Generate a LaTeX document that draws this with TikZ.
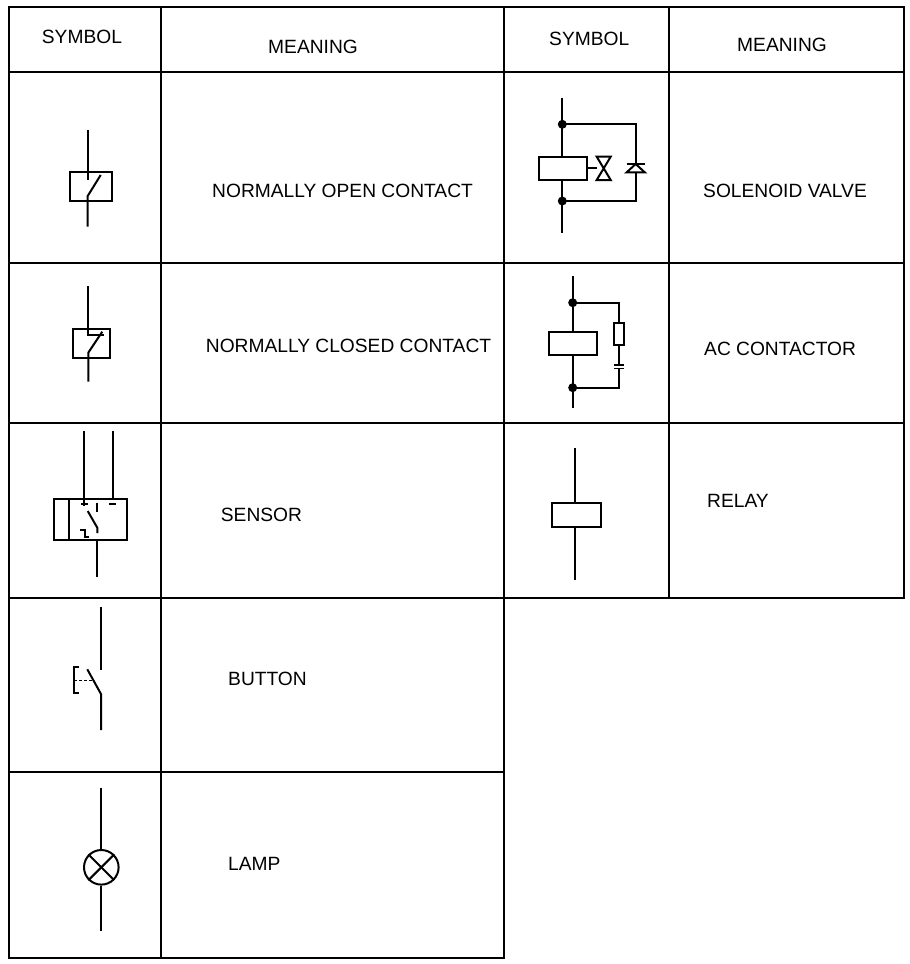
\documentclass[tikz,border=0pt]{standalone}
\usepackage{fontspec}
\setmainfont{Liberation Sans}
\begin{document}
\begin{tikzpicture}[x=1pt,y=-1pt,
  grid/.style={line width=2.2pt,line cap=rect},
  sym/.style={line width=2pt},
  lbl/.style={anchor=base west,inner sep=0pt,font=\fontsize{19.2}{22}\selectfont},
  dot/.style={circle,fill=black,inner sep=0pt,minimum size=9pt}]
\useasboundingbox (0,0) rectangle (910,964);
% ---- table grid ----
\foreach \y in {7,72,263,423,598} \draw[grid] (9,\y) -- (904,\y);
\foreach \y in {772,958} \draw[grid] (9,\y) -- (504,\y);
\foreach \x in {9,160.7,504} \draw[grid] (\x,7) -- (\x,958);
\foreach \x in {669,904} \draw[grid] (\x,7) -- (\x,598);
% ---- texts ----
\node[lbl] (t1) at (41.7,43.3) {SYMBOL};
\node[lbl] (t2) at (268,53) {MEANING};
\node[lbl] (t3) at (549,45) {SYMBOL};
\node[lbl] (t4) at (737,51) {MEANING};
\node[lbl] (t5) at (212,197) {NORMALLY OPEN CONTACT};
\node[lbl] (t6) at (703,197) {SOLENOID VALVE};
\node[lbl] (t7) at (205.7,352.3) {NORMALLY CLOSED CONTACT};
\node[lbl] (t8) at (704,355) {AC CONTACTOR};
\node[lbl] (t9) at (220.7,521.7) {SENSOR};
\node[lbl] (t10) at (707,507) {RELAY};
\node[lbl] (t11) at (228,685) {BUTTON};
\node[lbl] (t12) at (228,870) {LAMP};
% ---- normally open contact ----
\draw[sym] (70,171.7) rectangle (111.7,201);
\draw[sym] (87.7,130) -- (87.7,180);
\draw[sym] (87.7,226.7) -- (87.7,196) -- (100.7,175);
% ---- normally closed contact ----
\draw[sym] (73.3,329) rectangle (110,357.7);
\draw[sym] (88.3,286) -- (88.3,335) -- (104.3,335);
\draw[sym] (88.3,381.7) -- (88.3,352.7) -- (102.3,331.7);
% ---- sensor ----
\draw[sym] (54,499) rectangle (126.7,540);
\draw[sym] (69.3,499) -- (69.3,540);
\draw[sym] (84,431) -- (84,506);
\draw[sym] (81,504.3) -- (87.7,504.3);
\draw[sym] (112.7,431) -- (112.7,499);
\draw[sym] (109.3,504) -- (116,504);
\draw[sym] (97.3,502.7) -- (97.3,511.7);
\draw[sym] (87.7,511) -- (97.3,527.7) -- (97.3,533);
\draw[sym] (80,530) -- (85,530) -- (85,536.7) -- (89.3,536.7);
\draw[sym] (97.3,540) -- (97.3,577);
% ---- button ----
\draw[sym] (101,607.3) -- (101,670);
\draw[sym] (87.3,669.3) -- (101,694) -- (101,730);
\draw[sym] (79.3,666.7) -- (74.3,666.7) -- (74.3,693.3) -- (79.3,693.3);
\draw[line width=1.3pt,dash pattern=on 3pt off 2pt] (74.3,680.7) -- (93.3,680.7);
% ---- lamp ----
\node[circle,draw,line width=2pt,minimum size=34.6pt,inner sep=0pt] (lamp) at (101.3,867.3) {};
\draw[sym] (101.3,787.7) -- (lamp.north);
\draw[sym] (lamp.south) -- (101.3,930.7);
\draw[sym] (lamp.north west) -- (lamp.south east);
\draw[sym] (lamp.north east) -- (lamp.south west);
% ---- solenoid valve ----
\node[dot] (sv1) at (562.3,124.3) {};
\node[dot] (sv2) at (562.3,201) {};
\draw[sym] (562.3,97.7) -- (562.3,233);
\draw[sym,fill=white] (539.3,156.7) rectangle (586.7,180);
\draw[sym] (586.7,168.3) -- (596.7,168.3);
\draw[sym] (596.7,156.7) -- (610.7,156.7) -- (596.7,180) -- (610.7,180) -- cycle;
\draw[sym] (sv1.center) -- (635.7,124.3) -- (635.7,164);
\draw[sym] (635.7,172.3) -- (635.7,201) -- (sv2.center);
\draw[sym] (626.7,164) -- (644.7,164);
\draw[sym] (635.7,164) -- (626.7,172.3) -- (644.7,172.3) -- cycle;
% ---- AC contactor ----
\node[dot] (ac1) at (572.7,302.7) {};
\node[dot] (ac2) at (572.7,387.7) {};
\draw[sym] (572.7,276) -- (572.7,408);
\draw[sym,fill=white] (549.3,331.7) rectangle (596.7,355);
\draw[sym] (ac1.center) -- (619,302.7) -- (619,322.7);
\draw[sym] (614.3,322.7) rectangle (623.7,345);
\draw[sym] (619,345) -- (619,365);
\draw[line width=1.4pt] (614.3,365) -- (623.7,365);
\draw[line width=1.4pt] (614.3,368.5) -- (623.7,368.5);
\draw[sym] (619,368.5) -- (619,387.7) -- (ac2.center);
% ---- relay ----
\draw[sym] (574.7,448.3) -- (574.7,580);
\draw[sym,fill=white] (552.3,503.3) rectangle (600.7,527.3);
\end{tikzpicture}
\end{document}
